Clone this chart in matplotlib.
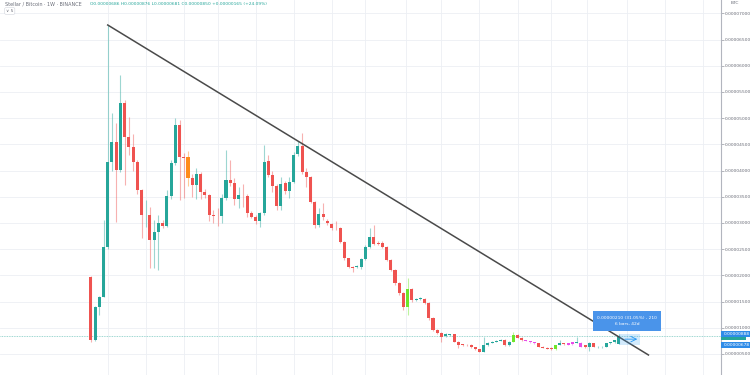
import matplotlib
matplotlib.use("Agg")
import matplotlib.pyplot as plt
from matplotlib.patches import Rectangle

# weekly XLM/BTC candles, prices in satoshi (1e-8 BTC)
opens = [1975, 767, 1402, 1593, 2547, 4169, 4551, 4011, 5283, 4646,
         4455, 4169, 3629, 3146, 3152, 2675, 2834, 3006, 2942, 3515,
         4137, 4869, 4264, 4252, 3851, 3725, 3935, 3598, 3534, 3152,
         3133, 3133, 3471, 3820, 3757, 3452, 3534, 3515, 3185, 3121,
         3044, 3185, 4188, 3916, 3706, 3324, 3757, 3617, 3789, 4316,
         4474, 3980, 3871, 3407, 2961, 3166, 3037, 2975, 2911, 2898,
         2644, 2326, 2166, 2166, 2166, 2306, 2547, 2726, 2624, 2624,
         2547, 2294, 2103, 1849, 1658, 1402, 1734, 1530, 1543, 1543,
         1479, 1180, 958, 906, 843, 862, 874, 735, 681, 672,
         672, 628, 590, 544, 672, 716, 735, 754, 767, 672,
         735, 862, 811, 767, 748, 722, 703, 640, 620, 620,
         594, 672, 703, 703, 722, 716, 716, 672, 628, 703,
         628, 628, 640, 703, 722, 686]
closes = [767, 1402, 1593, 2547, 4169, 4551, 4011, 5283, 4646, 4455,
          4169, 3629, 3152, 3152, 2675, 2834, 3006, 2942, 3515, 4137,
          4869, 4264, 4245, 3851, 3725, 3935, 3598, 3534, 3152, 3133,
          3127, 3471, 3820, 3757, 3452, 3534, 3528, 3185, 3121, 3044,
          3185, 4169, 3916, 3706, 3324, 3744, 3617, 3789, 4297, 4474,
          3980, 3871, 3407, 2961, 3166, 3109, 2994, 2898, 2898, 2644,
          2326, 2166, 2135, 2179, 2306, 2547, 2726, 2599, 2599, 2547,
          2294, 2103, 1849, 1658, 1402, 1734, 1530, 1543, 1562, 1479,
          1180, 958, 906, 830, 874, 874, 735, 672, 672, 662,
          628, 590, 544, 672, 716, 735, 754, 767, 672, 735,
          862, 811, 767, 748, 722, 703, 640, 620, 602, 594,
          672, 703, 684, 672, 690, 735, 640, 628, 716, 640,
          640, 640, 703, 722, 767, 850]
highs = [1990, 1420, 1610, 3057, 6777, 5098, 4907, 5823, 5340, 5028,
         4700, 4200, 3650, 3440, 3300, 3050, 3150, 3050, 3620, 4200,
         4996, 4960, 4335, 4380, 3935, 4050, 3980, 3640, 3560, 3250,
         3280, 3560, 4392, 4201, 3860, 3680, 3740, 3560, 3220, 3150,
         3200, 4487, 4300, 4000, 3750, 3880, 3800, 3880, 4350, 4560,
         4716, 4050, 3900, 3420, 3286, 3376, 3080, 3000, 3030, 2920,
         2660, 2340, 2180, 2200, 2330, 2570, 2898, 2961, 2650, 2650,
         2560, 2310, 2120, 1870, 1680, 1944, 1750, 1560, 1590, 1560,
         1500, 1200, 980, 920, 900, 890, 890, 750, 700, 690,
         690, 640, 600, 830, 730, 750, 770, 780, 780, 750,
         926, 880, 820, 775, 755, 730, 710, 650, 630, 625,
         680, 767, 715, 710, 730, 830, 725, 680, 725, 710,
         650, 650, 710, 735, 775, 876]
lows = [735, 750, 1244, 1580, 2500, 4000, 3024, 3980, 3725, 4300,
        4000, 3550, 2707, 2930, 2141, 2141, 2103, 2900, 2930, 3450,
        4100, 3440, 3477, 3700, 3500, 3450, 3450, 3480, 3030, 3000,
        2950, 2990, 3440, 3700, 3340, 3280, 3300, 3120, 3090, 2980,
        2930, 3150, 3880, 3600, 3250, 3250, 3560, 3480, 3760, 4280,
        3930, 3687, 3380, 2898, 2930, 3057, 2960, 2870, 2870, 2620,
        2300, 2140, 2070, 2150, 2130, 2290, 2530, 2580, 2580, 2520,
        2270, 2080, 1820, 1630, 1340, 1244, 1500, 1520, 1530, 1460,
        1150, 940, 880, 735, 820, 850, 720, 608, 660, 650,
        615, 575, 530, 535, 660, 705, 725, 745, 660, 660,
        725, 800, 755, 740, 715, 695, 625, 610, 590, 585,
        585, 665, 675, 665, 680, 710, 630, 615, 557, 630,
        620, 620, 635, 695, 715, 681]

# bars painted in custom colours on the chart
highlight = {23: '#ff8c1a', 75: '#6ee62a', 100: '#6ee62a', 110: '#6ee62a',
             103: '#e84ce8', 104: '#e84ce8', 105: '#e84ce8',
             113: '#e84ce8', 114: '#e84ce8', 116: '#e84ce8'}

# trend line (bar index, price)
trend_x = [4, 132]
trend_y = [6777, 481]

last_price = 850
measure_low = 678
measure_high = 888
grid_x = [4, 13, 22, 30, 39, 48, 57, 65, 74.5, 83, 92, 101, 109, 117.5, 127, 136, 145]
yticks = list(range(500, 7001, 500))

GREEN = '#26a69a'
RED = '#ef5350'

fig = plt.figure(figsize=(7.5, 3.75), dpi=100)
ax = fig.add_axes([0, 0, 720.7 / 750, 1])
ax.set_xlim(-21.5, 149.1)
ax.set_ylim(99, 7254)

# grid
ax.set_xticks(grid_x)
ax.set_yticks(yticks)
ax.grid(color='#eceff4', lw=0.6)
ax.set_axisbelow(True)
ax.tick_params(axis='x', length=0, labelbottom=False)
ax.yaxis.tick_right()
ax.tick_params(axis='y', length=2, width=0.5, color='#9598a1', pad=1,
               labelsize=3.2, labelcolor='#6a6d78')
ax.set_yticklabels([f"{v / 1e8:.8f}" for v in yticks])
for s in ['top', 'left', 'bottom']:
    ax.spines[s].set_visible(False)
ax.spines['right'].set_color('#b2b5be')
ax.spines['right'].set_linewidth(0.8)

# current price line
ax.axhline(last_price, color=GREEN, lw=0.6, alpha=0.6, ls=(0, (1, 1)))

# candles
idx = list(range(len(opens)))
colors = []
for i in idx:
    if i in highlight:
        colors.append(highlight[i])
    elif closes[i] >= opens[i]:
        colors.append(GREEN)
    else:
        colors.append(RED)
ax.vlines(idx, lows, highs, colors=colors, lw=0.8, alpha=0.45, zorder=2)
bottoms = [min(o, c) for o, c in zip(opens, closes)]
heights = [max(abs(c - o), 14) for o, c in zip(opens, closes)]
ax.bar(idx, heights, bottom=bottoms, width=0.72, color=colors, zorder=3)

# trend line
ax.plot(trend_x, trend_y, color='#4a4a4a', lw=1.1, zorder=4)

# measure tool
ax.add_patch(Rectangle((125, measure_low), 5, measure_high - measure_low,
                       fc='#2196f3', alpha=0.2, ec='none', zorder=5))
ax.annotate('', xy=(130, (measure_low + measure_high) / 2),
            xytext=(125.8, (measure_low + measure_high) / 2),
            arrowprops=dict(arrowstyle='->', color='#2196f3', lw=0.6), zorder=6)
ax.add_patch(Rectangle((118.9, 944), 16.1, 376, fc='#4a94ea', ec='none', zorder=6))
ax.text(127, 1132, "0.00000210 (31.05%) , 210\n6 bars, 42d", ha='center', va='center',
        color='white', fontsize=3.2, linespacing=1.6, zorder=7)

# price tags on the axis
tr = ax.get_yaxis_transform()
ax.add_patch(Rectangle((1.0, 760), 0.035, 100, transform=tr, fc=GREEN, ec='none',
                       clip_on=False, zorder=6))
for val in [measure_high, measure_low]:
    ax.add_patch(Rectangle((1.0, val - 58), 0.041, 116, transform=tr, fc='#2f8ce8',
                           ec='none', clip_on=False, zorder=7))
    ax.text(1.004, val, f"{val / 1e8:.8f}", transform=tr, ha='left', va='center',
            color='white', fontsize=3.2, zorder=8, clip_on=False)

# header
fig.text(5 / 750, 1 - 4 / 375, "Stellar / Bitcoin · 1W · BINANCE", fontsize=3.5,
         color='#6a6d78', va='center')
fig.text(90 / 750, 1 - 4 / 375,
         "O0.00000686 H0.00000876 L0.00000681 C0.00000850 +0.00000165 (+24.09%)",
         fontsize=3.2, color=GREEN, va='center')
fig.text(6 / 750, 1 - 11 / 375, "∨ 5", fontsize=3.2, color='#6a6d78', va='center',
         bbox=dict(boxstyle='round,pad=0.3', fc='white', ec='#d1d4dc', lw=0.4))
fig.text(735 / 750, 1 - 3 / 375, "BTC", fontsize=3.2, color='#6a6d78', va='center',
         ha='center')

fig.savefig('out.png', dpi=100)
